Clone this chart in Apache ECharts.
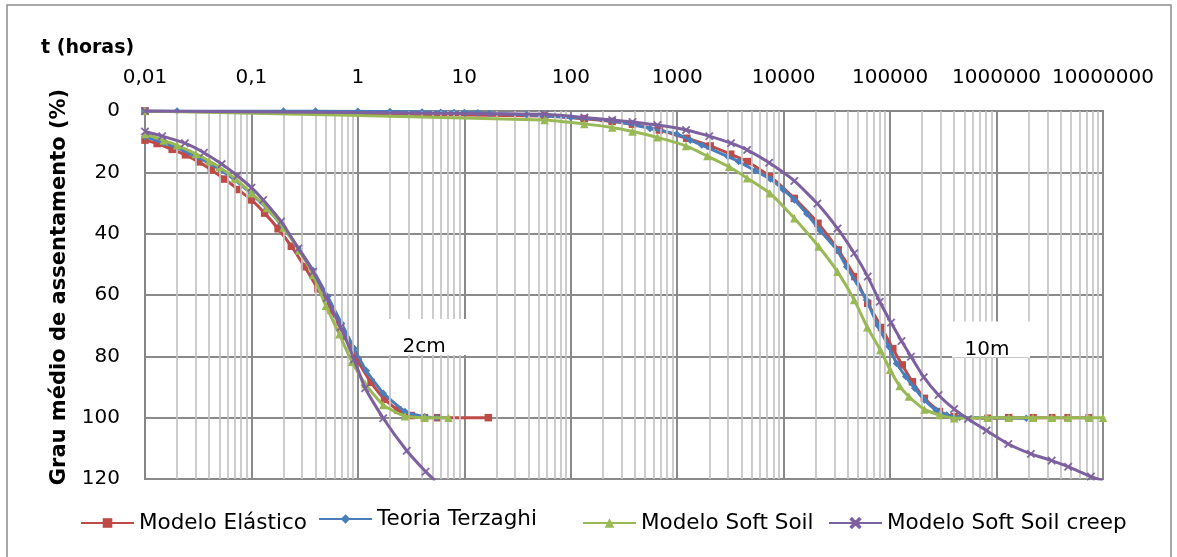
<!DOCTYPE html>
<html><head><meta charset="utf-8">
<script src="https://cdn.jsdelivr.net/npm/echarts@6/dist/echarts.min.js"></script>
<style>html,body{margin:0;padding:0;background:#fff}#c{width:1177px;height:557px}</style>
</head><body><div id="c"></div>
<script>
// ---------- DATA ----------
const seriesNames = ['Modelo Elástico', 'Teoria Terzaghi', 'Modelo Soft Soil', 'Modelo Soft Soil creep'];
const xTickLabels = ['0,01','0,1','1','10','100','1000','10000','100000','1000000','10000000'];
const yTickLabels = ['0','20','40','60','80','100','120'];
// [t (horas), grau médio de assentamento (%)]
const elastico2cm = [[0.01,9.5],[0.013,10.6],[0.018,12.5],[0.024,14.3],[0.032,16.6],[0.042,19.2],[0.056,22.2],[0.075,25.6],[0.1,29],[0.133,33.3],[0.178,38.4],[0.237,44.1],[0.316,50.8],[0.422,58],[0.562,65],[0.75,73.5],[1,81.5],[1.33,88.5],[1.78,94],[2.37,97.5],[3.16,99.3],[4.22,100],[5.62,100],[16.8,100]];
const terzaghi2cm = [[0.01,8.4],[0.015,10.4],[0.02,12],[0.03,14.8],[0.04,17],[0.05,19],[0.07,22.5],[0.1,27],[0.14,31.8],[0.2,38],[0.28,45],[0.38,52],[0.52,60.5],[0.7,69.2],[0.92,77.4],[1.2,84.7],[1.73,92],[2.77,98],[4.24,99.7],[5.5,100]];
const softSoil2cm = [[0.01,7.5],[0.015,9.6],[0.02,11.2],[0.03,14],[0.04,16.3],[0.05,18.3],[0.07,22],[0.1,26.8],[0.14,31.6],[0.2,38],[0.28,45.5],[0.38,53.5],[0.5,63.5],[0.67,72.8],[0.88,81.8],[1.17,89],[1.73,95.9],[2.77,99.5],[4.24,100],[7.1,100]];
const creep2cm = [[0.01,6.7],[0.0145,8.2],[0.0237,10.5],[0.0358,13.6],[0.0525,17.3],[0.0737,21.1],[0.1,25],[0.129,29],[0.19,36],[0.276,44.8],[0.38,52.4],[0.51,61],[0.69,70.5],[0.92,81],[1.17,90.4],[1.73,100.2],[2.88,110.8],[4.33,117.6],[5.3,120.5]];
const elastico10m = [[0.01,0],[56.7,1.6],[134,2.5],[245,3.4],[380,4.3],[680,6.2],[1230,8.9],[2040,11.4],[3180,14.1],[4570,16.5],[7500,21.4],[12600,28.5],[21000,36.6],[32500,45.3],[46600,54],[61600,62.7],[83000,70.6],[106000,77.5],[130000,82.8],[162000,88.3],[210000,93.7],[290000,98],[400000,99.7],[830000,100.2],[1300000,100],[2200000,100],[3300000,100],[4700000,100],[7400000,100]];
const terzaghi10m = [[0.01,0],[0.02,0],[0.2,0],[0.4,0],[1,0.1],[2,0.2],[4,0.3],[6,0.4],[8,0.45],[10,0.5],[13.4,0.6],[17.2,0.8],[38.5,1.2],[100,2.1],[250,3.2],[555,5.7],[990,7.5],[1330,9.5],[1700,11.1],[3000,14.9],[3770,16.5],[5400,19.5],[7500,22.2],[9800,25.5],[12600,29],[16500,33.5],[22000,39],[32000,45.5],[39000,50.8],[60000,61.6],[76000,69.8],[97000,76.8],[115000,82.3],[140000,86.6],[170000,90.4],[210000,94.2],[270000,97.5],[340000,99.1],[450000,99.9],[1900000,100.2]];
const softSoil10m = [[0.01,0],[56.7,2.9],[134,4.2],[245,5.4],[380,6.7],[652,8.6],[1210,11.4],[1920,14.7],[3080,18.2],[4540,21.9],[7400,26.8],[12600,35],[21300,44.2],[32000,52.4],[46000,61.6],[61000,70.5],[81000,77.9],[100000,84.4],[123000,89.7],[150000,93.1],[210000,97.3],[290000,99.1],[400000,100.2],[820000,100],[1300000,100],[2200000,100],[3300000,100],[4700000,100],[7400000,100],[10000000,100]];
const creep10m = [[0.01,0],[56.7,1.1],[134,2.1],[245,2.9],[380,3.6],[652,4.6],[1210,6.2],[2000,8.2],[3200,10.5],[4540,12.7],[7300,16.9],[12600,22.8],[20700,30.2],[32000,38.3],[46000,46.4],[61600,54],[80000,62.2],[102000,69],[128000,75],[157000,80.1],[207000,86.8],[285000,92.6],[400000,97.2],[540000,100.4],[805000,104.2],[1290000,108.6],[2100000,111.8],[3300000,114],[4700000,116],[7700000,119.2],[10000000,120.5]];
const annotTexts = ['2cm', '10m'];
const annotT = [4.56, 887000];
const annotY = [73.7, 74.5];

// ---------- STYLE ----------
const FONT = 'DejaVu Sans';
const colors = ['#BE4B48', '#4A7EBB', '#98B954', '#7D60A0'];
const xPath = 'path://M0,1.2L1.2,0L5,3.8L8.8,0L10,1.2L6.2,5L10,8.8L8.8,10L5,6.2L1.2,10L0,8.8L3.8,5Z';
const symbols = ['rect', 'diamond', 'triangle', xPath];
const symSizes = [7.5, 7.5, 8.5, 8];

// minor grid positions (2..9 per decade) for the log axis
const minorGrid = [];
for (let e = -2; e < 7; e++) for (let m = 2; m <= 9; m++) minorGrid.push(+(m * Math.pow(10, e)).toPrecision(3));

const groups = [
  [elastico2cm, elastico10m],
  [terzaghi2cm, terzaghi10m],
  [softSoil2cm, softSoil10m],
  [creep2cm, creep10m]
];

const series = [{
  type: 'line', name: '__grid', data: [], silent: true, z: 1,
  markLine: {
    silent: true, symbol: ['none', 'none'], label: { show: false }, animation: false,
    lineStyle: { color: '#c4c4c4', width: 1.7, type: 'solid' },
    data: minorGrid.map(v => ({ xAxis: v }))
  }
}];
groups.forEach((g, i) => {
  g.forEach(d => {
    series.push({
      type: 'line', name: seriesNames[i], data: d, z: 3 + i,
      smooth: 0.15,
      symbol: symbols[i], symbolSize: symSizes[i], showAllSymbol: true,
      lineStyle: { color: colors[i], width: 3 },
      itemStyle: { color: colors[i], borderColor: colors[i], borderWidth: i === 3 ? 0.5 : 0 },
      emphasis: { disabled: true }, animation: false
    });
  });
});

const legendLeft = [75, 313, 577, 823];
const legendTop = [506, 502, 506, 506];
const legends = seriesNames.map((n, i) => ({
  data: [n], left: legendLeft[i], top: legendTop[i], orient: 'horizontal',
  itemWidth: 53, itemHeight: 12, itemGap: 0, selectedMode: false,
  textStyle: { fontFamily: FONT, fontSize: 21.5, color: '#000', lineHeight: 24, padding: [0, 0, 0, 0] }
}));

const chart = echarts.init(document.getElementById('c'), null, { renderer: 'canvas' });
chart.setOption({
  animation: false,
  backgroundColor: '#fff',
  title: { text: 't (horas)', left: 36, top: 34, textStyle: { fontFamily: FONT, fontSize: 19, fontWeight: 'bold', color: '#000' } },
  legend: legends,
  grid: { left: 145, right: 74, top: 111, bottom: 78, show: true, borderColor: '#868686', borderWidth: 2, containLabel: false },
  xAxis: {
    type: 'log', logBase: 10, position: 'top', min: 0.01, max: 10000000, splitNumber: 9,
    axisLine: { show: true, lineStyle: { color: '#868686', width: 2 } },
    axisTick: { show: false },
    axisLabel: { margin: 23, fontFamily: FONT, fontSize: 20, color: '#000',
      formatter: v => { const i = Math.round(Math.log10(v)) + 2; return xTickLabels[i] ?? ''; } },
    splitLine: { show: true, lineStyle: { color: '#8a8a8a', width: 2 } }
  },
  yAxis: {
    type: 'value', inverse: true, min: 0, max: 120, interval: 20,
    name: 'Grau médio de assentamento (%)', nameLocation: 'middle', nameGap: 75, nameRotate: 90,
    nameTextStyle: { fontFamily: FONT, fontSize: 21, fontWeight: 'bold', color: '#000', padding: [0, 0, 0, 16] },
    axisLine: { show: true, lineStyle: { color: '#868686', width: 2 } },
    axisTick: { show: false },
    axisLabel: { margin: 25, fontFamily: FONT, fontSize: 20, color: '#000',
      formatter: v => yTickLabels[Math.round(v / 20)] ?? '' },
    splitLine: { show: true, lineStyle: { color: '#8a8a8a', width: 2 } }
  },
  series: series
});

// annotations, placed through the chart's own scales
const graphics = [{
  type: 'rect', id: 'frame', silent: true, z: 100,
  shape: { x: 7, y: 5, width: 1164, height: 560 },
  style: { fill: null, stroke: '#8c8c8c', lineWidth: 1.5 }
}];
annotTexts.forEach((t, i) => {
  const p = chart.convertToPixel({ gridIndex: 0 }, [annotT[i], annotY[i]]);
  graphics.push({
    type: 'rect', id: 'box' + i, silent: true, z: 50,
    shape: { x: p[0] - 39, y: p[1] - 18, width: 78, height: 36 },
    style: { fill: '#fff', stroke: null }
  });
  graphics.push({
    type: 'text', id: 'txt' + i, silent: true, z: 51,
    x: p[0] - 4, y: p[1] + 10,
    style: { text: t, fontFamily: FONT, fontSize: 20, fill: '#000', align: 'center', verticalAlign: 'middle' }
  });
});
chart.setOption({ graphic: graphics });
</script>
</body></html>
